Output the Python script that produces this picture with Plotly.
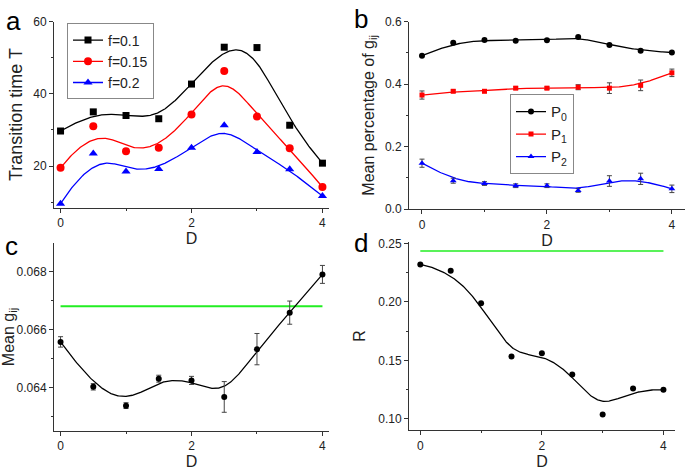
import numpy as np
import plotly.graph_objects as go

# ---------------- data ----------------
D = [0, 0.5, 1, 1.5, 2, 2.5, 3, 3.5, 4]

# panel a: transition time T
T_f01 = [29.7, 35.0, 34.0, 33.1, 42.7, 52.9, 52.8, 31.3, 20.8]
T_f015 = [19.5, 31.0, 24.1, 25.1, 34.3, 46.3, 33.7, 24.9, 14.2]
T_f02 = [9.6, 23.5, 18.5, 19.2, 25.1, 31.3, 23.9, 19.1, 11.7]

# panel b: mean percentage of g_ij
P0 = [0.491, 0.532, 0.541, 0.539, 0.540, 0.551, 0.525, 0.507, 0.501]
P1 = [0.365, 0.377, 0.377, 0.387, 0.387, 0.390, 0.387, 0.396, 0.436]
P1_err = [0.013, 0.004, 0.004, 0.004, 0.004, 0.008, 0.017, 0.017, 0.012]
P2 = [0.147, 0.091, 0.082, 0.075, 0.075, 0.060, 0.090, 0.097, 0.065]
P2_err = [0.013, 0.008, 0.006, 0.006, 0.006, 0.006, 0.017, 0.018, 0.012]

# panel c: mean g_ij
G = [0.06557, 0.06402, 0.06337, 0.06430, 0.06424, 0.06367, 0.06532, 0.06658, 0.06790]
G_err = [0.00018, 0.00011, 0.00010, 0.00012, 0.00014, 0.00053, 0.00054, 0.00040, 0.00031]
G_ref = 0.0668

# panel d: R
R = [0.232, 0.2266, 0.1987, 0.1533, 0.156, 0.1378, 0.1036, 0.1259, 0.1248]
R_ref = 0.2434

FONT = "Arial, 'Liberation Sans', sans-serif"


def bspline(xc, yc, num=400, k=3):
    """Clamped uniform B-spline using the data points as control points."""
    xc = np.asarray(xc, float)
    yc = np.asarray(yc, float)
    n = len(xc)
    kv = np.concatenate([np.zeros(k), np.arange(0, n - k + 1), np.full(k, n - k)]).astype(float)
    t = np.linspace(0, n - k, num)
    m = len(kv) - 1
    B = np.zeros((num, m))
    for i in range(m):
        B[:, i] = ((kv[i] <= t) & (t < kv[i + 1])).astype(float)
    last = np.max(np.nonzero(kv[:-1] < kv[1:])[0])
    B[t >= kv[-1], last] = 1.0
    for p in range(1, k + 1):
        Bn = np.zeros((num, m - p))
        for i in range(m - p):
            d1 = kv[i + p] - kv[i]
            d2 = kv[i + p + 1] - kv[i + 1]
            a = (t - kv[i]) / d1 * B[:, i] if d1 > 0 else 0
            b = (kv[i + p + 1] - t) / d2 * B[:, i + 1] if d2 > 0 else 0
            Bn[:, i] = a + b
        B = Bn
    return B @ xc, B @ yc


fig = go.Figure()

ERR = "#444444"


def add_series(xa, ya, y, color, symbol, msize, name=None, legend=None, err=None, lw=1.3):
    sx, sy = bspline(D, y)
    fig.add_trace(go.Scatter(x=sx, y=sy, mode="lines", line=dict(color=color, width=lw),
                             xaxis=xa, yaxis=ya, showlegend=False, hoverinfo="skip",
                             cliponaxis=False))
    ekw = {}
    if err is not None:
        ekw["error_y"] = dict(type="data", array=err, visible=True, color=ERR, thickness=1, width=2.5)
    fig.add_trace(go.Scatter(x=D, y=y, mode="markers",
                             marker=dict(color=color, symbol=symbol, size=msize),
                             xaxis=xa, yaxis=ya, showlegend=False, cliponaxis=False, **ekw))
    if name is not None:
        fig.add_trace(go.Scatter(x=[None], y=[None], mode="lines+markers", name=name,
                                 line=dict(color=color, width=lw),
                                 marker=dict(color=color, symbol=symbol, size=msize),
                                 xaxis=xa, yaxis=ya, legend=legend))


# panel a
add_series("x", "y", T_f01, "black", "square", 7, "f=0.1", "legend")
add_series("x", "y", T_f015, "#ff0000", "circle", 8, "f=0.15", "legend")
add_series("x", "y", T_f02, "#0000ff", "triangle-up", 8, "f=0.2", "legend")

# panel b
add_series("x2", "y2", P0, "black", "circle", 6, "P<sub>0</sub>", "legend2")
add_series("x2", "y2", P1, "#ff0000", "square", 5, "P<sub>1</sub>", "legend2", err=P1_err)
add_series("x2", "y2", P2, "#0000ff", "triangle-up", 6, "P<sub>2</sub>", "legend2", err=P2_err)

# panel c
fig.add_trace(go.Scatter(x=[D[0], D[-1]], y=[G_ref, G_ref], mode="lines",
                         line=dict(color="#22ee22", width=2), xaxis="x3", yaxis="y3",
                         showlegend=False))
add_series("x3", "y3", G, "black", "circle", 6, err=G_err)

# panel d
fig.add_trace(go.Scatter(x=[D[0], D[-1]], y=[R_ref, R_ref], mode="lines",
                         line=dict(color="#22ee22", width=1.5), xaxis="x4", yaxis="y4",
                         showlegend=False))
add_series("x4", "y4", R, "black", "circle", 6)

W, H = 685, 475


def dom_x(a, b):
    return [a / W, b / W]


def dom_y(top, bottom):
    return [1 - bottom / H, 1 - top / H]


axis_common = dict(showline=True, linecolor="#333333", linewidth=1, ticks="outside",
                   ticklen=4, tickcolor="#333333", showgrid=False, zeroline=False,
                   tickfont=dict(family=FONT, size=12, color="#222222"),
                   title_font=dict(family=FONT, size=16, color="#222222"))

xaxis_common = dict(axis_common, tickvals=[0, 2, 4], ticktext=["0", "2", "4"],
                    minor=dict(ticks="outside", ticklen=2, tickvals=[1, 3], tickcolor="#333333"),
                    title_text="D", title_standoff=2)

fig.update_layout(
    width=W, height=H,
    margin=dict(l=0, r=0, t=0, b=0),
    paper_bgcolor="white", plot_bgcolor="white",
    font=dict(family=FONT, color="#222222"),
    xaxis=dict(xaxis_common, domain=dom_x(54, 329), range=[-0.1, 4.1], anchor="y"),
    yaxis=dict(axis_common, domain=dom_y(15, 206.7), range=[8.5, 60], anchor="x",
               tickvals=[20, 40, 60],
               minor=dict(ticks="outside", ticklen=2, tickvals=[10, 30, 50], tickcolor="#333333"),
               title_text="Transition time T", title_standoff=5,
               title_font=dict(family=FONT, size=18, color="#222222")),
    xaxis2=dict(xaxis_common, domain=dom_x(409, 685), range=[-0.208, 4.21], anchor="y2"),
    yaxis2=dict(axis_common, domain=dom_y(15, 208.3), range=[0, 0.6], anchor="x2",
                tickvals=[0, 0.2, 0.4, 0.6], ticktext=["0.0", "0.2", "0.4", "0.6"],
                minor=dict(ticks="outside", ticklen=2, tickvals=[0.1, 0.3, 0.5], tickcolor="#333333"),
                title_text="Mean percentage of g<sub>ij</sub>", title_standoff=6),
    xaxis3=dict(xaxis_common, domain=dom_x(54, 329), range=[-0.1, 4.1], anchor="y3"),
    yaxis3=dict(axis_common, domain=dom_y(243.3, 436.7), range=[0.0625, 0.06898], anchor="x3",
                tickvals=[0.064, 0.066, 0.068], ticktext=["0.064", "0.066", "0.068"],
                minor=dict(ticks="outside", ticklen=2, tickvals=[0.063, 0.065, 0.067], tickcolor="#333333"),
                title_text="Mean g<sub>ij</sub>", title_standoff=4),
    xaxis4=dict(xaxis_common, domain=dom_x(409, 675), range=[-0.186, 4.19], anchor="y4"),
    yaxis4=dict(axis_common, domain=dom_y(241.7, 436), range=[0.0903, 0.2515], anchor="x4",
                tickvals=[0.10, 0.15, 0.20, 0.25], ticktext=["0.10", "0.15", "0.20", "0.25"],
                minor=dict(ticks="outside", ticklen=2, tickvals=[0.125, 0.175, 0.225], tickcolor="#333333"),
                title_text="R", title_standoff=8),
    legend=dict(x=67 / W, y=1 - 17 / H, xanchor="left", yanchor="top",
                bordercolor="#888888", borderwidth=1, bgcolor="white",
                font=dict(family=FONT, size=14, color="#222222"), tracegroupgap=0),
    legend2=dict(x=510 / W, y=1 - 90 / H, xanchor="left", yanchor="top",
                 bordercolor="#888888", borderwidth=1, bgcolor="white",
                 font=dict(family=FONT, size=15, color="#222222"), tracegroupgap=0),
    showlegend=True,
)

letters = [("a", 13, 14), ("b", 361, 12), ("c", 11, 246), ("d", 361, 243)]
for txt, px, py in letters:
    fig.add_annotation(text=txt, x=px / W, y=1 - py / H, xref="paper", yref="paper",
                       showarrow=False, xanchor="center", yanchor="middle",
                       font=dict(family=FONT, size=26, color="black"))

fig.write_html("out.html", config={"displayModeBar": False},
               post_script="document.body.style.margin='0px';document.body.style.overflow='hidden';")
